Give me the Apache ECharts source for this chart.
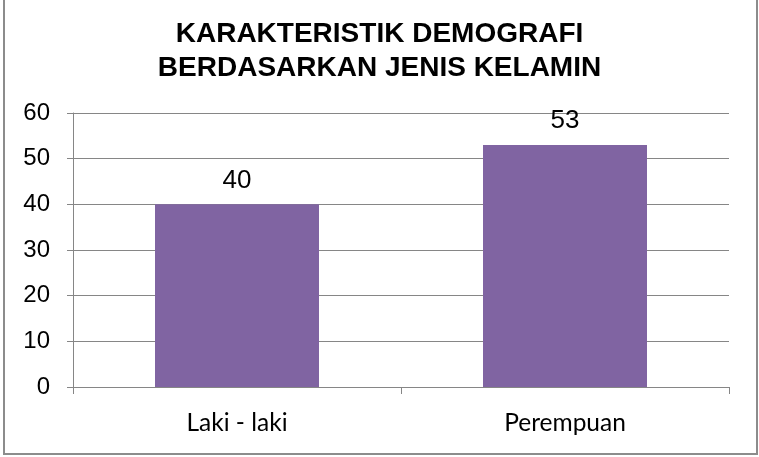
<!DOCTYPE html>
<html><head><meta charset="utf-8">
<script src="https://cdn.jsdelivr.net/npm/echarts@6/dist/echarts.min.js"></script>
<style>html,body{margin:0;padding:0;background:#fff}#c{width:759px;height:457px}</style>
</head><body><div id="c"></div>
<script>
const titleLines = ["KARAKTERISTIK DEMOGRAFI", "BERDASARKAN JENIS KELAMIN"];
const categories = ["Laki - laki", "Perempuan"];
const values = [40, 53];
const yTicks = {min: 0, max: 60, interval: 10};

const chart = echarts.init(document.getElementById('c'), null, {renderer: 'canvas'});
chart.setOption({
  animation: false,
  backgroundColor: '#fff',
  title: {
    text: titleLines.join('\n'),
    left: 'center', top: 12,
    textStyle: {fontFamily: 'Liberation Sans, Arial', fontWeight: 'bold', fontSize: 28, color: '#000', lineHeight: 34}
  },
  graphic: [{
    type: 'rect', shape: {x: 4, y: -2, width: 753, height: 456},
    style: {fill: 'none', stroke: '#8c8c8c', lineWidth: 2}, silent: true
  }],
  grid: {left: 73, right: 30, top: 113, bottom: 70, containLabel: false},
  xAxis: {
    type: 'category', data: categories,
    axisLine: {lineStyle: {color: '#868686', width: 1}},
    axisTick: {show: true, alignWithLabel: false, length: 7, lineStyle: {color: '#868686'}},
    axisLabel: {fontFamily: 'Lato, Carlito, Calibri, sans-serif', fontSize: 24.5, color: '#000', margin: 24}
  },
  yAxis: {
    type: 'value', min: yTicks.min, max: yTicks.max, interval: yTicks.interval,
    axisLine: {show: true, lineStyle: {color: '#868686', width: 1}},
    axisTick: {show: true, length: 6, lineStyle: {color: '#868686'}},
    splitLine: {lineStyle: {color: '#868686', width: 1}},
    axisLabel: {fontFamily: 'Liberation Sans, Arial', fontSize: 24, color: '#000', margin: 23}
  },
  series: [{
    type: 'bar', data: values, barWidth: '50%',
    itemStyle: {color: '#8064A2'},
    label: {show: true, position: 'top', distance: 11, fontFamily: 'Liberation Sans, Arial', fontSize: 26, color: '#000'}
  }]
});
</script></body></html>
